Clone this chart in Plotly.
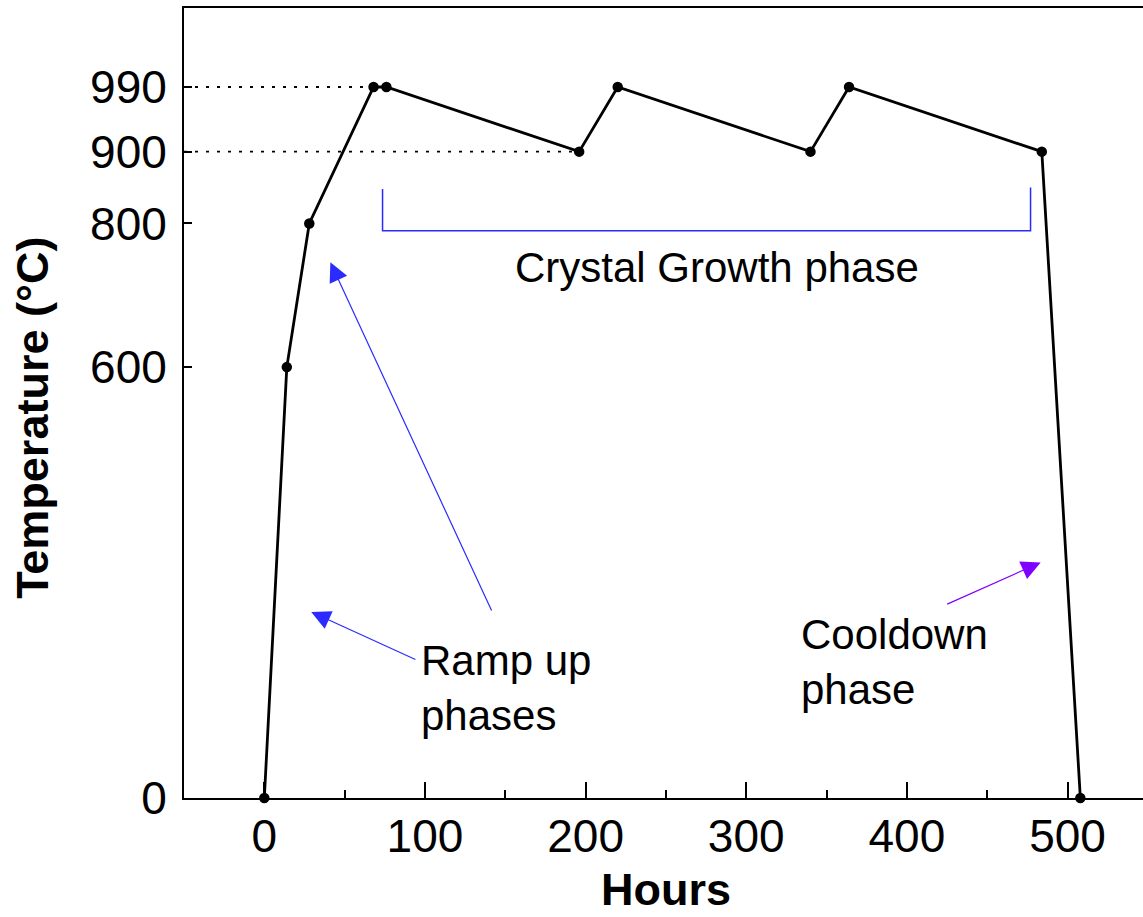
import plotly.graph_objects as go

# Furnace temperature programme: ramp up, three growth cycles, cooldown
HOURS = [0, 14, 28, 68, 76, 196, 220, 340, 364, 484, 508]
TEMPERATURE_C = [0, 600, 800, 990, 990, 900, 990, 900, 990, 900, 0]

Y_TICKS = [0, 600, 800, 900, 990]
X_TICKS = [0, 100, 200, 300, 400, 500]

X_RANGE = [-50, 547]
Y_RANGE = [0, 1100]

FONT = "Arial, Liberation Sans, sans-serif"
BLUE = "#2b2bff"
PURPLE = "#8000ff"

fig = go.Figure()

# dotted guides from the axis to the first 990 and 900 points
fig.add_trace(go.Scatter(
    x=[X_RANGE[0], HOURS[3]], y=[TEMPERATURE_C[3]] * 2, mode="lines",
    line=dict(color="black", width=1.8, dash="3px,8px"), hoverinfo="skip"))
fig.add_trace(go.Scatter(
    x=[X_RANGE[0], HOURS[5]], y=[TEMPERATURE_C[5]] * 2, mode="lines",
    line=dict(color="black", width=1.8, dash="3px,8px"), hoverinfo="skip"))

# bracket spanning the crystal growth phase
fig.add_trace(go.Scatter(
    x=[73.6, 73.6, 477, 477], y=[848, 790, 790, 850], mode="lines",
    line=dict(color=BLUE, width=1.5), hoverinfo="skip"))

# temperature profile
fig.add_trace(go.Scatter(
    x=HOURS, y=TEMPERATURE_C, mode="lines+markers",
    line=dict(color="black", width=2.8),
    marker=dict(color="black", size=10.5),
    cliponaxis=False))

annotations = [
    dict(text="Crystal Growth phase", x=282, y=739, xref="x", yref="y",
         showarrow=False, xanchor="center", yanchor="middle",
         font=dict(size=42, color="black", family=FONT)),
    dict(text="Ramp up<br>phases", x=96.5, y=153, xref="x", yref="y",
         showarrow=False, xanchor="left", yanchor="middle", align="left",
         font=dict(size=42, color="black", family=FONT)),
    dict(text="Cooldown<br>phase", x=333, y=189, xref="x", yref="y",
         showarrow=False, xanchor="left", yanchor="middle", align="left",
         font=dict(size=42, color="black", family=FONT)),
    # arrows
    dict(text="", x=41.1, y=746, ax=141.9, ay=259, xref="x", yref="y",
         axref="x", ayref="y", showarrow=True, arrowhead=2, arrowsize=3.2,
         arrowwidth=1.2, arrowcolor=BLUE),
    dict(text="", x=29.2, y=259, ax=95.0, ay=192, xref="x", yref="y",
         axref="x", ayref="y", showarrow=True, arrowhead=2, arrowsize=3.2,
         arrowwidth=1.2, arrowcolor=BLUE),
    dict(text="", x=483.3, y=328, ax=424.2, ay=269, xref="x", yref="y",
         axref="x", ayref="y", showarrow=True, arrowhead=2, arrowsize=3.2,
         arrowwidth=1.2, arrowcolor=PURPLE),
    # axis titles
    dict(text="<b>Hours</b>", x=250, y=-0.1152, xref="x", yref="paper",
         showarrow=False, xanchor="center", yanchor="middle",
         font=dict(size=45, color="black", family=FONT)),
    dict(text="<b>Temperature (°C)</b>", x=-0.158, y=530, xref="paper", yref="y",
         showarrow=False, xanchor="center", yanchor="middle", textangle=-90,
         font=dict(size=45, color="black", family=FONT)),
]

fig.update_layout(
    width=1143, height=917,
    margin=dict(l=184, r=0, t=8, b=119),
    paper_bgcolor="white", plot_bgcolor="white",
    showlegend=False,
    annotations=annotations,
    xaxis=dict(
        range=X_RANGE, tickvals=X_TICKS, ticks="inside", ticklen=16, tickwidth=2,
        tickcolor="black", showline=True, linecolor="black", linewidth=2,
        mirror=True, showgrid=False, zeroline=False, ticklabelstandoff=-3,
        tickfont=dict(size=46, color="black", family=FONT),
        minor=dict(tickvals=[50, 150, 250, 350, 450], ticks="inside", ticklen=8,
                   tickwidth=2, tickcolor="black", showgrid=False),
    ),
    yaxis=dict(
        range=Y_RANGE, tickvals=Y_TICKS, ticks="inside", ticklen=8, tickwidth=2,
        tickcolor="black", showline=True, linecolor="black", linewidth=2,
        showgrid=False, zeroline=False, ticklabelstandoff=6,
        tickfont=dict(size=46, color="black", family=FONT),
    ),
)

fig.write_html("out.html")
